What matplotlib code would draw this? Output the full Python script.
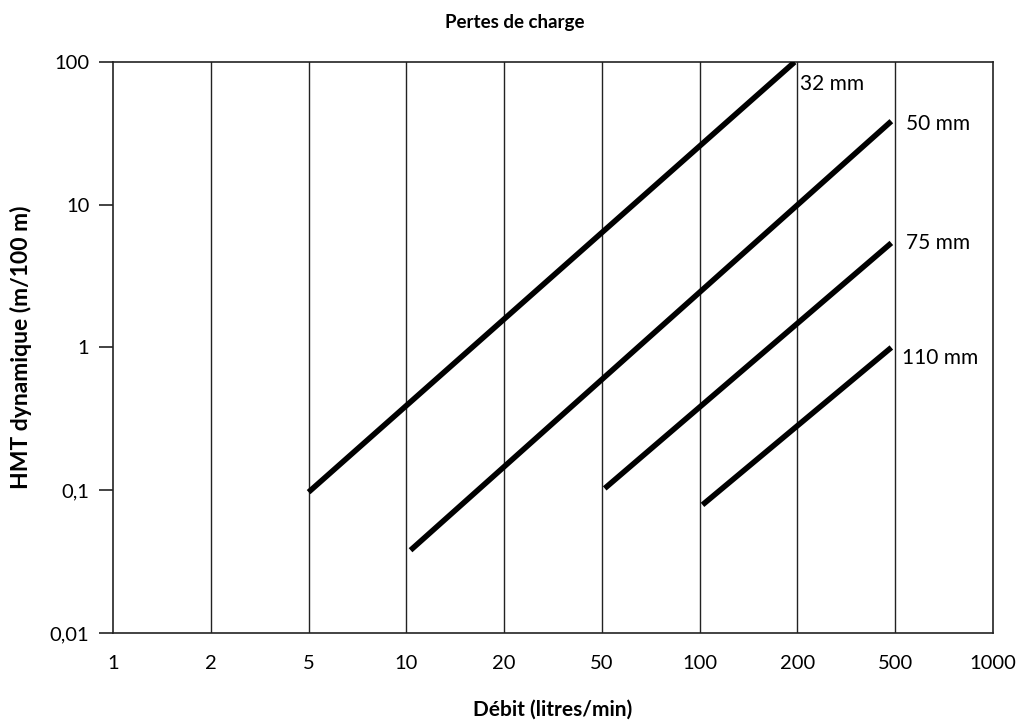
import numpy as np
import matplotlib.pyplot as plt

plt.rcParams['font.family'] = ['Lato', 'DejaVu Sans']

# x axis: equally spaced flow values (litres/min)
x_ticks = [1, 2, 5, 10, 20, 50, 100, 200, 500, 1000]
y_ticks = [0.01, 0.1, 1, 10, 100]
y_labels = ['0,01', '0,1', '1', '10', '100']

# head-loss lines (flow start/end, HMT start/end)
diametres = ['32 mm', '50 mm', '75 mm', '110 mm']
debit_32 = [5, 196];    hmt_32 = [0.097, 100]
debit_50 = [10.3, 482]; hmt_50 = [0.038, 38.5]
debit_75 = [51, 482];   hmt_75 = [0.103, 5.4]
debit_110 = [102, 482]; hmt_110 = [0.079, 1.0]
label_x = [205, 540, 540, 525]
label_y = [70, 37, 5.4, 0.85]

logt = np.log10(x_ticks)
pos = np.arange(len(x_ticks))

def fwd(x):
    x = np.clip(np.asarray(x, dtype=float), 1e-9, None)
    return np.interp(np.log10(x), logt, pos, left=np.nan, right=np.nan)

def inv(p):
    return 10 ** np.interp(p, pos, logt)

fig = plt.figure(figsize=(10.23, 7.22), dpi=100)
ax = fig.add_axes([0.1105, 0.1233, 0.8602, 0.7908])
ax.set_xscale('function', functions=(fwd, inv))
ax.set_yscale('log')
ax.set_xlim(1, 1000)
ax.set_ylim(0.01, 100)

for xv in x_ticks[1:-1]:
    ax.axvline(xv, color='#222222', lw=1.0, zorder=1)

series = [(debit_32, hmt_32), (debit_50, hmt_50), (debit_75, hmt_75), (debit_110, hmt_110)]
for (dx, dy), name, lx, ly in zip(series, diametres, label_x, label_y):
    ax.plot(dx, dy, color='black', lw=4.0, solid_capstyle='butt', zorder=3)
    ax.text(lx, ly, name, fontsize=15, va='center', ha='left')

ax.set_xticks(x_ticks)
ax.set_xticklabels([str(v) for v in x_ticks])
ax.xaxis.set_minor_locator(plt.NullLocator())
ax.set_yticks(y_ticks)
ax.set_yticklabels(y_labels)
ax.yaxis.set_minor_locator(plt.NullLocator())
ax.tick_params(axis='x', length=0, pad=16, labelsize=14.5)
ax.tick_params(axis='y', length=10, width=1.2, pad=7, labelsize=14.5, color='#222222')
for s in ax.spines.values():
    s.set_linewidth(1.2)
    s.set_color('#222222')

ax.set_xlabel('Débit (litres/min)', fontsize=15, fontweight='bold', labelpad=20)
ax.set_ylabel('HMT dynamique (m/100 m)', fontsize=16.5, fontweight='bold', labelpad=13)
fig.text(0.503, 0.969, 'Pertes de charge', fontsize=13.5, fontweight='bold', ha='center', va='center')

fig.savefig('out.png', dpi=100)
